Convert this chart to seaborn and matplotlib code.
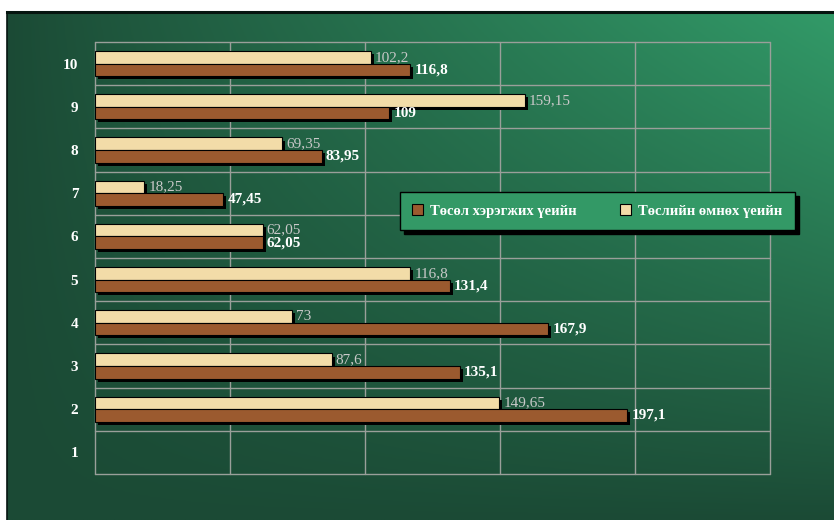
import numpy as np
import pandas as pd
import matplotlib
matplotlib.use("Agg")
import matplotlib.pyplot as plt
import matplotlib.patheffects as pe
from matplotlib.patches import Patch
import seaborn as sns

# Row labels (top to bottom) and the two series
categories = ["10", "9", "8", "7", "6", "5", "4", "3", "2", "1"]
series_during = "Төсөл хэрэгжих үеийн"
series_before = "Төслийн өмнөх үеийн"
values_during = [116.8, 109, 83.95, 47.45, 62.05, 131.4, 167.9, 135.1, 197.1, None]
values_before = [102.2, 159.15, 69.35, 18.25, 62.05, 116.8, 73, 87.6, 149.65, None]
x_ticks = [0, 50, 100, 150, 200, 250]

rows = []
for cat, vb, vd in zip(categories, values_before, values_during):
    if vb is not None:
        rows.append({"cat": cat, "series": series_before, "value": vb})
    if vd is not None:
        rows.append({"cat": cat, "series": series_during, "value": vd})
df = pd.DataFrame(rows)

col_before = "#f2dca8"
col_during = "#9b5a2f"
serif = ["Liberation Serif", "DejaVu Serif"]

sns.set_theme(style="white")
plt.rcParams["font.family"] = serif

W, H = 834, 520
fig = plt.figure(figsize=(W / 100, H / 100), dpi=100, facecolor="white")

# green gradient panel behind the chart
bg = fig.add_axes([7 / W, 0, (W - 7) / W, (H - 12) / H], zorder=-5)
gx = np.linspace(0, 1, 300)
gy = np.linspace(0, 1, 200)
X, Y = np.meshgrid(gx, gy)
t = np.clip(X * Y, 0, 1) ** 0.9
dark = np.array([0x1b, 0x4a, 0x35]) / 255
light = np.array([0x32, 0x9a, 0x68]) / 255
img = dark[None, None, :] * (1 - t[..., None]) + light[None, None, :] * t[..., None]
bg.imshow(img, origin="lower", aspect="auto", extent=[0, 1, 0, 1])
bg.set_xticks([]); bg.set_yticks([])
for s in ["right", "bottom"]:
    bg.spines[s].set_visible(False)
bg.spines["top"].set_color("#061510"); bg.spines["top"].set_linewidth(2.2)
bg.spines["left"].set_color("#061510"); bg.spines["left"].set_linewidth(1.2)

ax = fig.add_axes([95 / W, (H - 474) / H, (770 - 95) / W, (474 - 42) / H])
ax.patch.set_alpha(0)

sns.barplot(data=df, y="cat", x="value", hue="series", order=categories,
            hue_order=[series_before, series_during],
            palette=[col_before, col_during], orient="h", width=0.58,
            edgecolor="black", linewidth=0.8, saturation=1, ax=ax, legend=False)

shadow = [pe.SimplePatchShadow(offset=(2.2, -2.2), shadow_rgbFace="black", alpha=1), pe.Normal()]
for p in ax.patches:
    p.set_path_effects(shadow)

def fmt(v):
    return f"{v:g}".replace(".", ",")

label_styles = [dict(color="#c9c9c9", fontweight="normal"),
                dict(color="white", fontweight="bold")]
for cont, st in zip(ax.containers, label_styles):
    ax.bar_label(cont, labels=[fmt(v) for v in cont.datavalues], padding=3,
                 fontsize=11, family=serif, **st)

ax.set_xlim(0, 250)
ax.set_ylim(len(categories) - 0.5, -0.5)
ax.set_xticks(x_ticks)
ax.set_xticklabels([])
ax.set_yticks(np.arange(len(categories) + 1) - 0.5, minor=False)
ax.set_yticks(np.arange(len(categories)), minor=True)
ax.set_yticklabels([])
ax.set_yticklabels(categories, minor=True, color="white", fontweight="bold",
                   fontsize=11, family=serif)
ax.tick_params(axis="both", which="both", length=0)
ax.tick_params(axis="y", which="minor", pad=12)
ax.grid(True, axis="both", which="major", color="#9a9f9a", linewidth=1)
for gl in ax.get_xgridlines() + ax.get_ygridlines():
    gl.set_clip_on(False)
ax.set_axisbelow(True)
for s in ax.spines.values():
    s.set_visible(False)
ax.set_xlabel(""); ax.set_ylabel("")

handles = [Patch(facecolor=col_during, edgecolor="black", linewidth=0.8),
           Patch(facecolor=col_before, edgecolor="black", linewidth=0.8)]
leg = ax.legend(handles, [series_during, series_before], ncol=2,
                loc="upper left", bbox_to_anchor=(0.452, 0.653), borderaxespad=0,
                frameon=True, fancybox=False, shadow={"color": "black", "alpha": 1, "ox": 3, "oy": -3},
                facecolor="#339966", edgecolor="black", framealpha=1,
                handlelength=0.7, handleheight=0.7, handletextpad=0.5,
                columnspacing=3.0, borderpad=0.85,
                prop={"family": serif, "weight": "bold", "size": 10.5})
leg.get_frame().set_linewidth(1)
for txt in leg.get_texts():
    txt.set_color("white")

fig.savefig("out.png", dpi=100, facecolor="white")
